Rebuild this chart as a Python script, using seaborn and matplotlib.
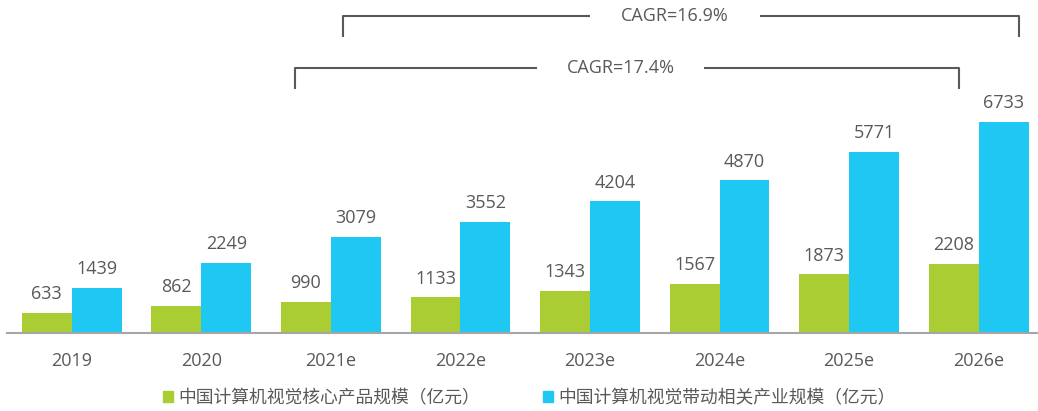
import pandas as pd
import seaborn as sns
import matplotlib.pyplot as plt

# data
years = ['2019', '2020', '2021e', '2022e', '2023e', '2024e', '2025e', '2026e']
core = [633, 862, 990, 1133, 1343, 1567, 1873, 2208]
related = [1439, 2249, 3079, 3552, 4204, 4870, 5771, 6733]
series_names = ['中国计算机视觉核心产品规模（亿元）', '中国计算机视觉带动相关产业规模（亿元）']
colors = ['#A9CD33', '#1FC8F2']

df = pd.DataFrame({
    'year': years * 2,
    'value': core + related,
    'series': [series_names[0]] * len(years) + [series_names[1]] * len(years),
})

sns.set_theme(style='white')
plt.rcParams['font.family'] = ['Open Sans', 'Noto Sans CJK SC', 'DejaVu Sans']
text_color = '#595959'

fig = plt.figure(figsize=(10.38, 4.11), dpi=100)
ax = fig.add_axes([7 / 1038, 78 / 411, 1030 / 1038, 333 / 411])

sns.barplot(data=df, x='year', y='value', hue='series', palette=colors,
            width=0.77, gap=0, saturation=1, ax=ax, legend=False,
            edgecolor='none', linewidth=0)

for cont in ax.containers:
    ax.bar_label(cont, padding=7, fontsize=13, color=text_color)

ax.set_xlim(-0.5, 7.45)
ax.set_ylim(0, 10626)
ax.set_xlabel('')
ax.set_ylabel('')
ax.set_yticks([])
ax.tick_params(axis='x', length=0, pad=14, labelsize=13, labelcolor=text_color)
for s in ['top', 'right', 'left']:
    ax.spines[s].set_visible(False)
ax.spines['bottom'].set_color('#A6A6A6')
ax.spines['bottom'].set_linewidth(1.5)

# CAGR brackets
line_kw = dict(color='#595959', lw=1.5, clip_on=False, solid_capstyle='butt')
brackets = [
    # left, right, top, bottom, gap left, gap right, label
    (2.09, 7.31, 10115, 9445, 4.00, 5.31, 'CAGR=16.9%'),
    (1.72, 6.85, 8456, 7786, 3.59, 4.88, 'CAGR=17.4%'),
]
for x0, x1, yt, yb, g0, g1, lab in brackets:
    ax.plot([x0, x0, g0], [yb, yt, yt], **line_kw)
    ax.plot([g1, x1, x1], [yt, yt, yb], **line_kw)
    ax.text((g0 + g1) / 2, yt, lab, ha='center', va='center',
            fontsize=13, color=text_color)

handles = [plt.Rectangle((0, 0), 1, 1, color=c) for c in colors]
fig.legend(handles, series_names, loc='center', bbox_to_anchor=(0.51, 0.032),
           ncol=2, frameon=False, labelcolor=text_color,
           handlelength=0.6, handleheight=0.6, handletextpad=0.3,
           columnspacing=3.5, prop={'family': ['Noto Sans CJK SC', 'DejaVu Sans'], 'size': 12.8})

fig.savefig('out.png', dpi=100)
